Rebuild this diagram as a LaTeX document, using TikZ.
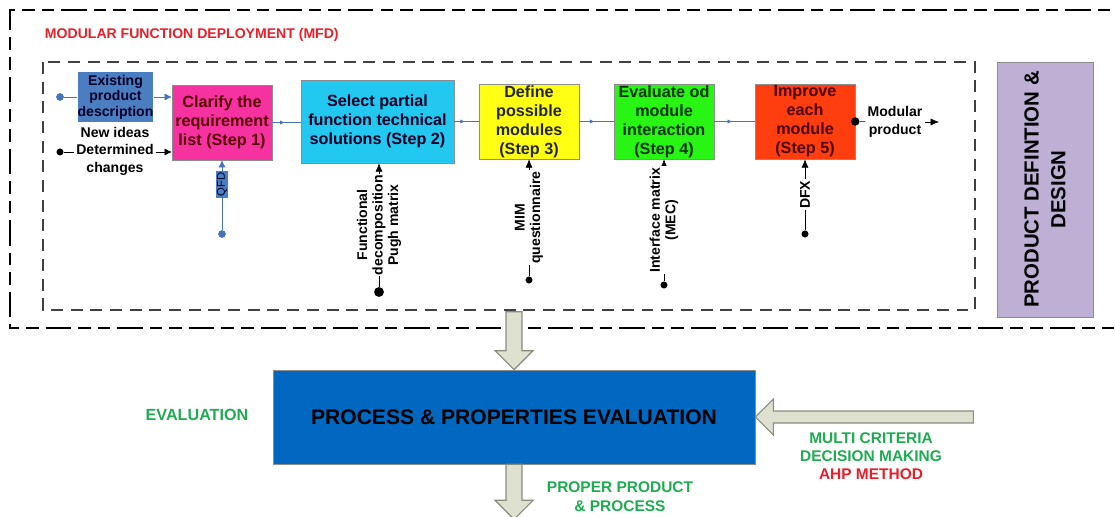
\documentclass[tikz,border=0pt]{standalone}
\usepackage{fontspec}
\setmainfont{Liberation Sans}
\usetikzlibrary{arrows.meta}
\usetikzlibrary{decorations.markings}

\definecolor{existblue}{RGB}{74,126,193}
\definecolor{linkblue}{RGB}{70,115,185}
\definecolor{steppink}{RGB}{245,50,160}
\definecolor{stepcyan}{RGB}{35,200,240}
\definecolor{stepyellow}{RGB}{255,255,20}
\definecolor{stepgreen}{RGB}{40,245,20}
\definecolor{stepred}{RGB}{255,62,15}
\definecolor{lavender}{RGB}{190,175,212}
\definecolor{evalblue}{RGB}{0,104,192}
\definecolor{arrowfill}{RGB}{222,225,208}
\definecolor{arrowgrey}{RGB}{135,140,125}
\definecolor{labelgreen}{RGB}{30,172,80}
\definecolor{labelred}{RGB}{232,30,40}

\tikzset{
	stepbox/.style={draw=black!45, thin, align=center, inner sep=0pt, minimum width=2.5cm, minimum height=1.875cm, font=\fontsize{11.5}{13.5}\selectfont\bfseries},
	bluedot/.style={circle, fill=linkblue, inner sep=0pt, minimum size=5.5pt},
	blackdot/.style={circle, fill=black, inner sep=0pt, minimum size=5pt},
	smalltext/.style={align=center, inner sep=1.5pt, font=\fontsize{10}{12.5}\selectfont\bfseries},
	sidelabel/.style={align=center, rotate=90, fill=white, inner sep=1pt, font=\fontsize{10}{11}\selectfont\bfseries},
	flow/.style={linkblue, line width=0.6pt, postaction={decorate}, decoration={markings, mark=at position 0.45 with {\arrow{Latex[length=3.5pt,width=3pt]}}}},
	blockarrow/.style={draw=arrowgrey, fill=arrowfill, line width=0.8pt},
}

\begin{document}
\begin{tikzpicture}[x=0.025cm, y=-0.025cm]
		\useasboundingbox (0,0) rectangle (1115,517);
		\clip (0,0) rectangle (1115,517);
		
		\draw [line width=1.4pt, dash pattern=on 9pt off 5pt on 9pt off 5pt on 18pt off 5pt] (1130,10) -- (10,10) -- (10,328) -- (1130,328);
		\node [anchor=west, text=labelred, font=\fontsize{10}{12}\selectfont\bfseries] (mfd) at (40,35) {MODULAR FUNCTION DEPLOYMENT (MFD)};
		\draw [black!75, line width=0.8pt, dash pattern=on 8.5pt off 5.5pt] (43,62) rectangle (975,310);
		
		\node [stepbox, draw=none, fill=existblue, text=black!85!blue, minimum width=1.875cm, minimum height=1.25cm, font=\fontsize{10}{11}\selectfont\bfseries] (exist) at (115.5,97) {Existing\\product\\description};
		\node [stepbox, fill=steppink, text=black!65!red] (s1) at (222,122.5) {Clarify the\\requirement\\list (Step 1)};
		\node [stepbox, fill=stepcyan, text=black!85!blue, minimum width=3.825cm, minimum height=2.075cm] (s2) at (377.5,121.5) {Select partial\\function technical\\solutions (Step 2)};
		\node [stepbox, fill=stepyellow, text=black!85] (s3) at (529,121.5) {Define\\possible\\modules\\(Step 3)};
		\node [stepbox, fill=stepgreen, text=black!80!green] (s4) at (664,121.5) {Evaluate od\\module\\interaction\\(Step 4)};
		\node [stepbox, fill=stepred, text=black!70!red] (s5) at (805,121.5) {Improve\\each\\module\\(Step 5)};
		\node [stepbox, fill=lavender, rotate=90, minimum width=6.375cm, minimum height=2.4cm, font=\fontsize{14.5}{19}\selectfont\bfseries] (pdd) at (1045,189.5) {PRODUCT DEFINTION \&\\DESIGN};
		
		% inputs of step 1
		\node [bluedot] (d0) at (60,97) {};
		\draw [linkblue] (d0) -- (exist);
		\draw [linkblue, -{Latex[length=5pt,width=5pt]}] (exist) -- (exist -| s1.west);
		\node [blackdot] (d1) at (60,152) {};
		\node [smalltext] (ideas) at (115,151) {New ideas\\Determined\\changes};
		\draw (d1) -- (d1 -| ideas.west);
		\draw [-{Latex[length=5pt,width=5pt]}] (ideas.east |- d1) -- (d1 -| s1.west);
		\node [bluedot] (d2) at (222,234) {};
		\draw [linkblue, -{Latex[length=5pt,width=5pt]}] (d2) -- node [pos=0.65, rotate=90, fill=existblue, text=black!85!blue, inner sep=1pt, font=\fontsize{8}{9}\selectfont] {QFD} (s1.south);
		
		% flow of steps
		\draw [flow] (s1.east) -- (s1.east -| s2.west);
		\draw [flow] (s2.east |- s3) -- (s3.west);
		\draw [flow] (s3.east) -- (s4.west);
		\draw [flow] (s4.east) -- (s5.west);
		
		% tools under the steps
		\node [blackdot, minimum size=7pt] (d3) at (379,292) {};
		\draw [-{Latex[length=6pt,width=5pt]}] (d3) -- node [sidelabel] {Functional\\decomposition\\Pugh matrix} (d3 |- s2.south);
		\node [blackdot] (d4) at (529,280) {};
		\draw [-{Latex[length=6pt,width=5pt]}] (d4) -- node [sidelabel] {MIM\\questionnaire} (s3.south);
		\node [blackdot] (d5) at (664,285) {};
		\draw [-{Latex[length=6pt,width=5pt]}] (d5) -- node [sidelabel] {Interface matrix\\(MEC)} (s4.south);
		\node [blackdot] (d6) at (805,234) {};
		\draw [-{Latex[length=6pt,width=5pt]}] (d6) -- node [sidelabel] {DFX} (s5.south);
		
		\node [blackdot, minimum size=6pt] (d7) at (s5.east) {};
		\node [smalltext] (modp) at (895,122) {Modular\\product};
		\coordinate (modend) at (939,122);
		\draw (d7) -- (modp);
		\draw [-{Latex[length=6pt,width=5pt]}] (modp) -- (modend);
		
		% evaluation
		\node [stepbox, fill=evalblue, text=black, minimum width=12.05cm, minimum height=2.35cm, font=\fontsize{15}{18}\selectfont\bfseries] (eval) at (514,417) {PROCESS \& PROPERTIES EVALUATION};
		\draw [blockarrow] (eval.north) -- ++(-19,-19) -- ++(11,0) -- ++(0,-39) -- ++(16,0) -- ++(0,39) -- ++(11,0) -- cycle;
		\draw [blockarrow] (eval.south) ++(-8,0) -- ++(0,36) -- ++(-11,0) -- ++(19,19) -- ++(19,-19) -- ++(-11,0) -- ++(0,-36) -- cycle;
		\draw [blockarrow] (eval.east) -- ++(18,-18) -- ++(0,12) -- ++(200,0) -- ++(0,12) -- ++(-200,0) -- ++(0,12) -- cycle;
		
		\node [text=labelgreen, font=\fontsize{11.5}{13}\selectfont\bfseries] (evallabel) at (197,415) {EVALUATION};
		\node [align=center, font=\fontsize{11}{12.8}\selectfont\bfseries] (mcdm) at (871,456) {\textcolor{labelgreen}{MULTI CRITERIA}\\\textcolor{labelgreen}{DECISION MAKING}\\\textcolor{labelred}{AHP METHOD}};
		\node [align=center, text=labelgreen, font=\fontsize{11}{13.5}\selectfont\bfseries] (proper) at (620,497) {PROPER PRODUCT\\\& PROCESS};
	\end{tikzpicture}
\end{document}
